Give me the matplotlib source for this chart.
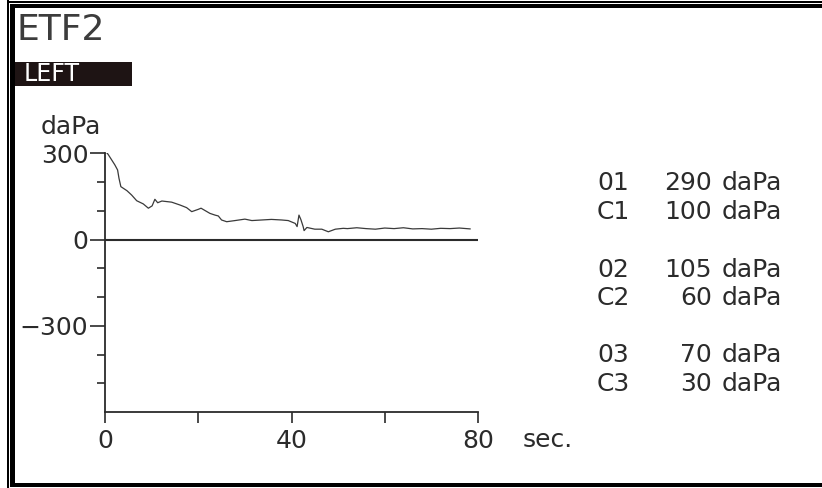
import matplotlib
matplotlib.use("Agg")
import matplotlib.pyplot as plt
from matplotlib.patches import Rectangle
from matplotlib.transforms import IdentityTransform
from matplotlib.ticker import FixedLocator

# ---- data ----
time_s = [0.0, 0.36, 0.72, 1.43, 2.1, 2.7, 3.0, 3.4, 4.7, 5.7, 6.8, 8.2, 9.3, 10.1,
          10.7, 11.3, 12.2, 14.3, 16.1, 17.5, 18.6, 20.0, 20.6, 22.5, 23.6, 24.3,
          25.0, 26.1, 27.9, 30.0, 31.5, 33.6, 35.7, 37.9, 39.3, 40.8, 41.2, 41.6,
          42.0, 42.5, 42.7, 43.3, 45.0, 46.5, 47.9, 49.4, 51.1, 52.0, 54.0, 56.0,
          58.0, 60.0, 62.0, 64.0, 66.0, 68.0, 70.0, 72.0, 74.0, 76.0, 78.3]
pressure = [300, 303, 295, 277, 260, 242, 213, 184, 170, 155, 135, 124, 109, 117,
            140, 128, 134, 130, 120, 111, 97, 105, 109, 91, 85, 82,
            68, 62, 66, 71, 66, 68, 70, 68, 66, 56, 45, 85,
            70, 45, 31, 42, 36, 36, 27, 36, 39, 38, 41, 38,
            36, 40, 38, 41, 37, 38, 36, 39, 38, 40, 37]

y_major = [300, 0, -300]
y_minor = [200, 100, -100, -200, -400, -500]
x_major = [0, 40, 80]
x_minor = [20, 60]

row_codes = ["01", "C1", "02", "C2", "03", "C3"]
row_values = [290, 100, 105, 60, 70, 30]
unit = "daPa"

W, H = 822, 488
ink = "#2b2b2b"
FS = 18
plt.rcParams["font.family"] = ["DejaVu Sans"]

fig = plt.figure(figsize=(W / 100, H / 100), dpi=100)
fig.patch.set_facecolor("white")

def px(x, y):
    return x / W, 1 - y / H

# axes placement (pixels): x 105..478, y(300)=153.3 .. y(-600)=412
ax = fig.add_axes([105 / W, 1 - 412 / H, 373 / W, (412 - 153.3) / H])
ax.set_xlim(0, 80)
ax.set_ylim(-600, 300)
ax.set_facecolor("white")
for s in ["top", "right"]:
    ax.spines[s].set_visible(False)
for s in ["left", "bottom"]:
    ax.spines[s].set_color(ink)
    ax.spines[s].set_linewidth(1.3)

ax.axhline(0, color=ink, lw=1.5, xmin=0, xmax=1)
ax.plot(time_s, pressure, color="#3a3a3a", lw=0.9)

ax.yaxis.set_major_locator(FixedLocator(y_major))
ax.yaxis.set_minor_locator(FixedLocator(y_minor))
ax.xaxis.set_major_locator(FixedLocator(x_major))
ax.xaxis.set_minor_locator(FixedLocator(x_minor))
ax.set_yticklabels([str(v).replace("-", "\u2212") for v in y_major])
ax.set_xticklabels([str(v) for v in x_major])

ax.tick_params(axis="y", which="major", direction="out", length=11, width=1.2,
               color=ink, labelsize=FS, labelcolor=ink, pad=1)
ax.tick_params(axis="y", which="minor", direction="out", length=6, width=1.2, color=ink)
ax.tick_params(axis="x", which="both", direction="out", length=8, width=1.2, color=ink,
               labelsize=FS, labelcolor=ink, pad=4)

# titles and labels
fig.text(*px(17, 30), "ETF2", fontsize=26, color="#3c3c3c", ha="left", va="center")
fig.add_artist(Rectangle((14, H - 86), 118, 24, transform=IdentityTransform(),
                         facecolor="#1e1414", edgecolor="none"))
fig.text(*px(24, 74), "LEFT", fontsize=17, color="white", ha="left", va="center")
fig.text(*px(71, 127), unit, fontsize=FS, color=ink, ha="center", va="center")
fig.text(*px(523, 440), "sec.", fontsize=FS, color=ink, ha="left", va="center")

# side table
row_y = [183, 212, 270, 298, 355, 384]
for code, val, y in zip(row_codes, row_values, row_y):
    fig.text(*px(597, y), code, fontsize=FS, color=ink, ha="left", va="center")
    fig.text(*px(712, y), str(val), fontsize=FS, color=ink, ha="right", va="center")
    fig.text(*px(722, y), unit, fontsize=FS, color=ink, ha="left", va="center")

# frame
def rect(x0, y0, x1, y1):
    fig.add_artist(Rectangle((x0, H - y1), x1 - x0, y1 - y0, transform=IdentityTransform(),
                             facecolor="black", edgecolor="none"))

rect(7, 1, W, 2.7)      # top thin
rect(10, 4, W, 8.3)     # top thick
rect(7, 0, 9, H)        # left thin
rect(10, 4, 14.5, 487)  # left thick
rect(10, 483, W, 487)   # bottom

fig.savefig("out.png", dpi=100, facecolor="white")
